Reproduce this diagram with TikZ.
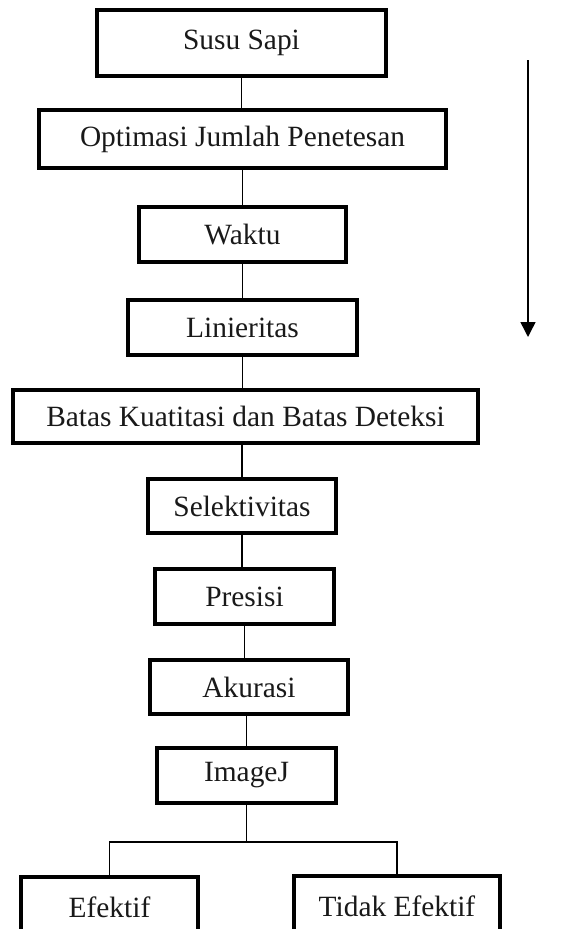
\documentclass[tikz,border=0pt]{standalone}
\usepackage{fontspec}
\setmainfont{Liberation Serif}
\usetikzlibrary{arrows.meta,calc}
\begin{document}
\begin{tikzpicture}[x=1pt,y=-1pt,
  box/.style={draw=black,line width=4.5pt,fill=white,inner sep=0pt,
    font=\fontsize{29.4}{35}\selectfont,text=black!90},
  link/.style={draw=black,line width=1.2pt},
  flowarrow/.style={draw=black,line width=1.5pt,-{Triangle[width=15pt,length=15pt]}}]
\useasboundingbox (0,0) rectangle (560,929);
\clip (0,0) rectangle (560,929);
\node[box,minimum width=289pt,minimum height=66pt] (susu) at (241.5,43) {Susu Sapi};
\node[box,minimum width=407pt,minimum height=58pt] (opt) at (242.5,139) {Optimasi Jumlah Penetesan};
\node[box,minimum width=207pt,minimum height=55pt] (waktu) at (242.5,234.5) {Waktu};
\node[box,minimum width=229pt,minimum height=55pt] (lin) at (242.5,327.5) {Linieritas};
\node[box,minimum width=465pt,minimum height=53pt] (batas) at (245.5,416.5) {Batas Kuatitasi dan Batas Deteksi};
\node[box,minimum width=188pt,minimum height=54pt] (sel) at (242,506) {Selektivitas};
\node[box,minimum width=179pt,minimum height=55pt] (pres) at (244.5,596.5) {Presisi};
\node[box,minimum width=198pt,minimum height=54pt] (aku) at (249,687) {Akurasi};
\node[box,minimum width=179pt,minimum height=55pt] (imj) at (246.5,775.5) {ImageJ};
\node[box,minimum width=177pt,minimum height=60pt] (ef) at (109.5,907) {Efektif};
\node[box,minimum width=206pt,minimum height=60pt] (tef) at (397,906) {Tidak Efektif};
\draw[link] (susu.south) -- (susu.south |- opt.north);
\draw[link] (opt.south) -- (opt.south |- waktu.north);
\draw[link] (waktu.south) -- (waktu.south |- lin.north);
\draw[link] (lin.south) -- (lin.south |- batas.north);
\draw[link] (sel.north |- batas.south) -- (sel.north);
\draw[link] (sel.south) -- (sel.south |- pres.north);
\draw[link] (pres.south) -- (pres.south |- aku.north);
\draw[link] (imj.north |- aku.south) -- (imj.north);
\coordinate (split) at (249,842);
\draw[link] (imj.south) -- (imj.south |- split);
\draw[link] (ef.north) |- (split) -| (tef.north);
\coordinate (atop) at (528,60);
\coordinate (abot) at (528,337);
\draw[flowarrow] (atop) -- (abot);
\end{tikzpicture}
\end{document}
